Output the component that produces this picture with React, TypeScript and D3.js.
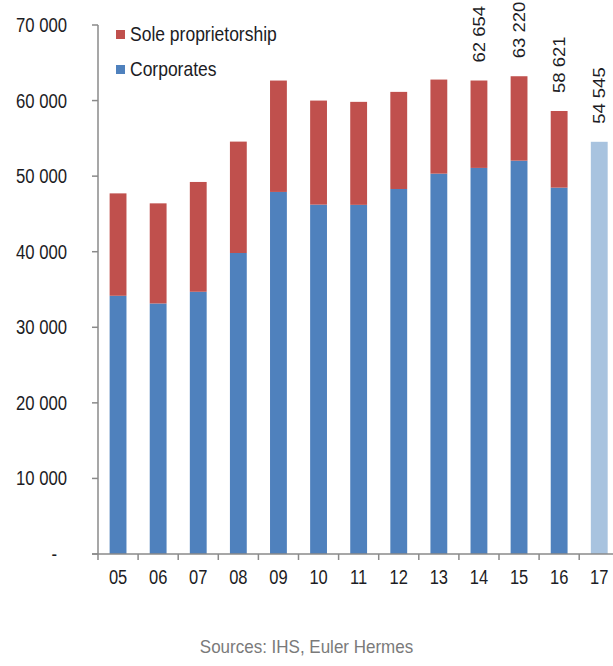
import React, { useRef, useEffect } from 'react';
import * as d3 from 'd3';

// values (number of businesses, Excel-style chart)
const years = ['05', '06', '07', '08', '09', '10', '11', '12', '13', '14', '15', '16', '17'];
const corporates = [34170, 33150, 34700, 39830, 47910, 46230, 46200, 48300, 50330, 51090, 52050, 48480, 0];
const soleProprietorship = [13550, 13250, 14530, 14740, 14740, 13770, 13630, 12850, 12450, 11564, 11170, 10141, 0];
const forecast = [0, 0, 0, 0, 0, 0, 0, 0, 0, 0, 0, 0, 54545];
const labelYears = ['14', '15', '16', '17'];
const labelTotals = [62654, 63220, 58621, 54545];
const yTicks = [0, 10000, 20000, 30000, 40000, 50000, 60000, 70000];
const legendItems = ['Sole proprietorship', 'Corporates'];

const RED = '#C0504D';
const BLUE = '#4F81BD';
const LIGHT = '#A8C3DF';
const AXIS = '#8a8a8a';
const INK = '#1c1c24';
const FONT = '"Liberation Sans", Arial, sans-serif';

const App = () => {
  const svgRef = useRef<SVGSVGElement>(null);

  const width = 613;
  const height = 666;
  const margin = { top: 25, left: 98, bottom: 112 };

  useEffect(() => {
    const svg = d3.select(svgRef.current);
    svg.selectAll('*').remove();

    const x = d3
      .scaleBand()
      .domain(years)
      .range([margin.left, margin.left + 13 * 40.1])
      .paddingInner(0.58)
      .paddingOuter(0.29);

    const y = d3
      .scaleLinear()
      .domain([0, 70000])
      .range([height - margin.bottom, margin.top]);

    const fmt = (v: number) => (v === 0 ? '-' : d3.format(',')(v).replace(/,/g, ' '));

    // stacked bars
    const rows = years.map((yr, i) => ({
      year: yr,
      corporates: corporates[i],
      sole: soleProprietorship[i],
      forecast: forecast[i],
    }));
    const stack = d3.stack<any>().keys(['corporates', 'sole', 'forecast'])(rows);
    const colors: Record<string, string> = { corporates: BLUE, sole: RED, forecast: LIGHT };

    stack.forEach(layer => {
      svg
        .append('g')
        .selectAll('rect')
        .data(layer.filter(d => d[1] > d[0]))
        .join('rect')
        .attr('x', d => x(d.data.year)!)
        .attr('width', x.bandwidth())
        .attr('y', d => y(d[1]))
        .attr('height', d => y(d[0]) - y(d[1]))
        .attr('fill', colors[layer.key]);
    });

    // y axis
    const yAxis = svg.append('g');
    yAxis
      .append('line')
      .attr('x1', margin.left)
      .attr('x2', margin.left)
      .attr('y1', y(70000))
      .attr('y2', y(0))
      .attr('stroke', AXIS)
      .attr('stroke-width', 1.5);
    yAxis
      .selectAll('line.tick')
      .data(yTicks)
      .join('line')
      .attr('class', 'tick')
      .attr('x1', margin.left - 6)
      .attr('x2', margin.left)
      .attr('y1', d => y(d))
      .attr('y2', d => y(d))
      .attr('stroke', AXIS)
      .attr('stroke-width', 1.5);
    yAxis
      .selectAll('text')
      .data(yTicks)
      .join('text')
      .attr('transform', d => `translate(${d === 0 ? 57 : 67},${y(d) + 7}) scale(1,1.17)`)
      .attr('text-anchor', 'end')
      .attr('font-family', FONT)
      .attr('font-size', 16.7)
      .attr('fill', INK)
      .text(d => fmt(d));

    // x axis
    const xAxis = svg.append('g');
    xAxis
      .append('line')
      .attr('x1', margin.left - 6)
      .attr('x2', width)
      .attr('y1', y(0))
      .attr('y2', y(0))
      .attr('stroke', AXIS)
      .attr('stroke-width', 1.5);
    xAxis
      .selectAll('line.tick')
      .data(years)
      .join('line')
      .attr('class', 'tick')
      .attr('x1', d => x(d)! - x.step() * x.paddingInner() / 2)
      .attr('x2', d => x(d)! - x.step() * x.paddingInner() / 2)
      .attr('y1', y(0))
      .attr('y2', y(0) + 6)
      .attr('stroke', AXIS)
      .attr('stroke-width', 1.5);
    xAxis
      .selectAll('text')
      .data(years)
      .join('text')
      .attr('transform', d => `translate(${x(d)! + x.bandwidth() / 2},${y(0) + 30}) scale(1,1.18)`)
      .attr('text-anchor', 'middle')
      .attr('font-family', FONT)
      .attr('font-size', 16.5)
      .attr('fill', INK)
      .text(d => d);

    // rotated total labels
    svg
      .append('g')
      .selectAll('text')
      .data(labelYears)
      .join('text')
      .attr(
        'transform',
        (d, i) =>
          `translate(${x(d)! + x.bandwidth() / 2 + 6},${y(labelTotals[i]) - 18}) rotate(-90) scale(1.14,1)`
      )
      .attr('font-family', FONT)
      .attr('font-size', 16.2)
      .attr('fill', INK)
      .text((d, i) => fmt(labelTotals[i]));

    // legend
    const legend = svg
      .append('g')
      .selectAll('g')
      .data(legendItems)
      .join('g')
      .attr('transform', (d, i) => `translate(116,${30 + i * 35})`);
    legend
      .append('rect')
      .attr('width', 9)
      .attr('height', 9)
      .attr('fill', (d, i) => (i === 0 ? RED : BLUE));
    legend
      .append('text')
      .attr('transform', 'translate(14,10.5) scale(1,1.13)')
      .attr('font-family', FONT)
      .attr('font-size', 17.5)
      .attr('fill', INK)
      .text(d => d);

    // source
    svg
      .append('text')
      .attr('transform', `translate(${width / 2},653) scale(1,1.1)`)
      .attr('text-anchor', 'middle')
      .attr('font-family', FONT)
      .attr('font-size', 17)
      .attr('fill', '#7a7a7a')
      .text('Sources: IHS, Euler Hermes');
  }, []);

  return (
    <svg
      ref={svgRef}
      width={width}
      height={height}
      style={{ position: 'absolute', left: 0, top: 0, background: '#fff' }}
    />
  );
};

export default App;
